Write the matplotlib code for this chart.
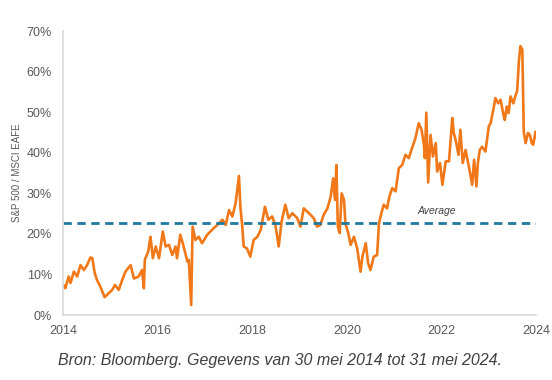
import matplotlib.pyplot as plt

# S&P 500 / MSCI EAFE ratio (decimal year, percent)
jaren = [2014.02, 2014.05, 2014.12, 2014.16, 2014.23, 2014.30, 2014.37, 2014.44, 2014.51, 2014.58,
         2014.62, 2014.67, 2014.72, 2014.79, 2014.88, 2014.97, 2015.04, 2015.10, 2015.18, 2015.25,
         2015.32, 2015.43, 2015.50, 2015.60, 2015.67, 2015.71, 2015.73, 2015.80, 2015.85, 2015.90,
         2015.96, 2016.03, 2016.11, 2016.17, 2016.24, 2016.31, 2016.38, 2016.41, 2016.48, 2016.55,
         2016.63, 2016.66, 2016.71, 2016.74, 2016.80, 2016.87, 2016.94, 2017.05, 2017.15, 2017.26,
         2017.37, 2017.44, 2017.51, 2017.58, 2017.65, 2017.72, 2017.75, 2017.79, 2017.82, 2017.89,
         2017.96, 2018.03, 2018.11, 2018.18, 2018.27, 2018.34, 2018.42, 2018.49, 2018.56, 2018.62,
         2018.70, 2018.77, 2018.85, 2018.95, 2019.02, 2019.09, 2019.20, 2019.30, 2019.37, 2019.44,
         2019.51, 2019.59, 2019.66, 2019.71, 2019.75, 2019.78, 2019.81, 2019.85, 2019.89, 2019.94,
         2019.97, 2020.03, 2020.08, 2020.15, 2020.22, 2020.29, 2020.33, 2020.40, 2020.45, 2020.50,
         2020.57, 2020.64, 2020.68, 2020.73, 2020.78, 2020.85, 2020.90, 2020.96, 2021.03, 2021.10,
         2021.17, 2021.24, 2021.31, 2021.38, 2021.45, 2021.52, 2021.58, 2021.63, 2021.65, 2021.68,
         2021.72, 2021.77, 2021.82, 2021.88, 2021.91, 2021.97, 2022.02, 2022.09, 2022.16, 2022.23,
         2022.26, 2022.30, 2022.36, 2022.40, 2022.45, 2022.51, 2022.58, 2022.65, 2022.69, 2022.74,
         2022.77, 2022.81, 2022.86, 2022.93, 2023.00, 2023.04, 2023.11, 2023.14, 2023.20, 2023.25,
         2023.31, 2023.34, 2023.38, 2023.42, 2023.46, 2023.52, 2023.57, 2023.60, 2023.64, 2023.67,
         2023.71, 2023.74, 2023.78, 2023.83, 2023.87, 2023.91, 2023.94, 2023.99, 2024.01]
ratio = [7.2, 6.6, 9.5, 7.9, 10.7, 9.5, 12.3, 11.1, 12.3, 14.2,
         14.0, 10.4, 8.6, 7.0, 4.4, 5.4, 6.2, 7.4, 6.2, 8.6,
         10.7, 12.3, 9.0, 9.5, 11.1, 6.6, 13.6, 15.6, 19.3, 14.0,
         16.9, 14.0, 20.6, 16.9, 17.3, 14.8, 16.9, 14.0, 19.8, 16.9,
         13.2, 13.6, 2.5, 21.8, 18.5, 19.3, 17.7, 19.8, 21.0, 22.2,
         23.5, 22.2, 25.9, 24.3, 27.6, 34.3, 26.7, 21.8, 16.9, 16.4,
         14.4, 18.5, 19.3, 21.0, 26.7, 23.5, 24.3, 22.2, 16.9, 23.0,
         27.2, 23.9, 25.1, 23.9, 21.8, 26.3, 25.1, 23.9, 21.8, 22.2,
         24.7, 26.3, 29.2, 33.7, 28.4, 37.0, 21.8, 20.2, 30.0, 28.4,
         22.6, 20.2, 17.3, 19.3, 16.4, 10.7, 14.4, 17.7, 12.8, 11.1,
         14.4, 14.8, 22.6, 25.1, 27.2, 26.3, 29.2, 31.3, 30.5, 36.2,
         37.0, 39.5, 38.7, 41.2, 43.6, 47.3, 45.7, 42.0, 38.7, 49.9,
         32.7, 44.4, 39.1, 42.4, 35.4, 37.5, 32.1, 37.9, 37.9, 48.6,
         44.9, 43.2, 39.5, 45.7, 37.5, 40.7, 36.6, 32.1, 38.3, 31.7,
         37.5, 40.7, 41.5, 40.3, 46.5, 47.3, 51.4, 53.5, 52.2, 53.1,
         49.4, 48.1, 51.4, 49.8, 53.9, 52.2, 54.3, 55.2, 63.0, 66.3,
         65.4, 45.2, 42.4, 44.9, 44.4, 42.4, 42.0, 45.2, 43.8]
gemiddelde = 22.8
jaar_ticks = [2014, 2016, 2018, 2020, 2022, 2024]
pct_ticks = [0, 10, 20, 30, 40, 50, 60, 70]

plt.rcParams['font.family'] = ['Liberation Sans', 'DejaVu Sans']

fig = plt.figure(figsize=(5.52, 3.80), dpi=100)
ax = fig.add_axes([0.1141, 0.171, 0.857, 0.747])

ax.plot(jaren, ratio, color='#F07818', lw=1.9, solid_joinstyle='round')
ax.plot([2014, 2024], [gemiddelde, gemiddelde], color='#1F7A9E', lw=2, dashes=(3, 2))
ax.text(2021.5, gemiddelde + 2.2, 'Average', fontsize=7.5, style='italic', color='#404040')

ax.set_xlim(2014, 2024)
ax.set_ylim(0, 70)
ax.set_xticks(jaar_ticks)
ax.set_yticks(pct_ticks)
ax.set_yticklabels([f'{p}%' for p in pct_ticks])
ax.tick_params(length=0, labelsize=9, labelcolor='#595959')
ax.tick_params(axis='y', pad=8)
ax.tick_params(axis='x', pad=7)

for kant in ['top', 'right']:
    ax.spines[kant].set_visible(False)
for kant in ['left', 'bottom']:
    ax.spines[kant].set_color('#D9D9D9')
    ax.spines[kant].set_linewidth(1.2)

fig.text(17 / 552, 1 - 173 / 380, 'S&P 500 / MSCI EAFE', rotation=90, fontsize=7,
         color='#595959', ha='center', va='center')
fig.text(280 / 552, 1 - 360 / 380, 'Bron: Bloomberg. Gegevens van 30 mei 2014 tot 31 mei 2024.',
         fontsize=11.5, style='italic', color='#404040', ha='center', va='center')

fig.savefig('out.png', dpi=100)
